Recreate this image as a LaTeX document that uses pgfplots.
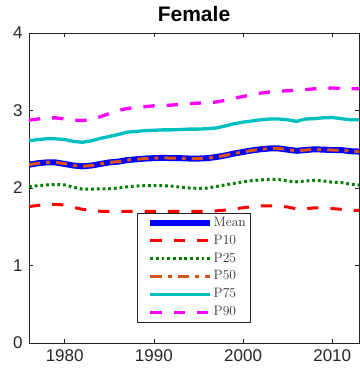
\documentclass[border=0pt]{standalone}
\usepackage{fontspec}
\usepackage{pgfplots}
\usepackage{pgfplotstable}
\pgfplotsset{compat=1.18}
\newfontfamily\arial{Liberation Sans}
\definecolor{mblue}{rgb}{0,0,1}
\definecolor{mred}{rgb}{1,0,0}
\definecolor{mgreen}{rgb}{0,0.5,0}
\definecolor{morange}{rgb}{0.85,0.325,0.098}
\definecolor{mcyan}{rgb}{0,0.75,0.75}
\definecolor{mmag}{rgb}{1,0,1}
\pgfplotstableread{
year mean p10 p25 p50 p75 p90
1976 2.300 1.760 2.020 2.300 2.610 2.875
1977 2.320 1.775 2.030 2.320 2.625 2.890
1978 2.330 1.790 2.040 2.330 2.635 2.905
1979 2.330 1.790 2.045 2.330 2.635 2.905
1980 2.310 1.780 2.040 2.315 2.625 2.890
1981 2.290 1.750 2.010 2.290 2.600 2.875
1982 2.280 1.725 1.985 2.280 2.590 2.870
1983 2.290 1.710 1.985 2.290 2.610 2.885
1984 2.310 1.700 1.990 2.310 2.640 2.920
1985 2.330 1.700 1.990 2.330 2.665 2.960
1986 2.340 1.700 2.000 2.340 2.690 3.000
1987 2.360 1.700 2.015 2.360 2.720 3.025
1988 2.370 1.700 2.025 2.370 2.730 3.040
1989 2.380 1.700 2.030 2.380 2.740 3.050
1990 2.385 1.700 2.030 2.385 2.745 3.060
1991 2.390 1.700 2.030 2.390 2.750 3.065
1992 2.385 1.700 2.025 2.385 2.750 3.070
1993 2.385 1.700 2.010 2.385 2.755 3.080
1994 2.380 1.700 2.000 2.380 2.760 3.090
1995 2.380 1.700 1.995 2.380 2.760 3.095
1996 2.385 1.700 2.000 2.385 2.765 3.100
1997 2.400 1.705 2.020 2.400 2.775 3.110
1998 2.420 1.715 2.040 2.420 2.800 3.130
1999 2.445 1.730 2.060 2.445 2.830 3.160
2000 2.465 1.745 2.080 2.465 2.850 3.180
2001 2.485 1.760 2.095 2.485 2.865 3.205
2002 2.500 1.770 2.105 2.500 2.880 3.225
2003 2.510 1.770 2.110 2.510 2.890 3.240
2004 2.510 1.765 2.110 2.510 2.890 3.250
2005 2.495 1.755 2.090 2.495 2.880 3.255
2006 2.480 1.730 2.080 2.480 2.860 3.260
2007 2.490 1.730 2.090 2.490 2.890 3.270
2008 2.500 1.745 2.100 2.500 2.895 3.280
2009 2.495 1.745 2.090 2.495 2.905 3.285
2010 2.490 1.735 2.075 2.490 2.910 3.290
2011 2.490 1.725 2.070 2.490 2.895 3.285
2012 2.475 1.710 2.050 2.475 2.880 3.280
2013 2.470 1.710 2.040 2.470 2.880 3.280
}\datatable
\begin{document}
\begin{tikzpicture}
\useasboundingbox (-29bp,-30bp) rectangle (331bp,343bp);
\begin{axis}[
  scale only axis, width=330bp, height=310bp,
  at={(0,0)}, anchor=south west,
  xmin=1976, xmax=2013, ymin=0, ymax=4,
  xtick={1980,1990,2000,2010}, ytick={0,1,2,3,4},
  tick align=inside, major tick length=4bp,
  axis line style={draw=black!85, line width=0.6bp},
  tick style={draw=black!85, line width=0.6bp},
  ticklabel style={font=\arial\fontsize{17bp}{20bp}\selectfont, text=black!85},
  /pgf/number format/assume math mode=true,
  /pgf/number format/1000 sep={},
  xticklabel style={yshift=-3bp},
  yticklabel style={xshift=-3bp},
  title={Female},
  title style={font=\arial\bfseries\fontsize{21bp}{24bp}\selectfont, at={(0.5,1)}, anchor=base, yshift=5.3bp},
  legend cell align=left,
  legend style={at={(0.327,0.419)}, anchor=north west, draw=black!85, line width=0.6bp,
    font=\fontsize{13.6bp}{15bp}\selectfont, text=black!80,
    inner xsep=4bp, inner ysep=3bp, row sep=4.3bp, column sep=0bp,
    nodes={inner sep=0.5bp, text height=9.5bp, text depth=3bp}},
  legend image code/.code={\path (0bp,0bp); \draw[#1] (6bp,0bp) -- (66bp,0bp);},
  clip=true,
]
\addplot[mblue, line width=6bp, line join=round] table[x=year,y=mean]{\datatable};
\addlegendentry{Mean}
\addplot[mred, line width=3bp, dash pattern=on 11.3bp off 12bp] table[x=year,y=p10]{\datatable};
\addlegendentry{P10}
\addplot[mgreen, line width=3bp, dash pattern=on 2.8bp off 2.9bp] table[x=year,y=p25]{\datatable};
\addlegendentry{P25}
\addplot[morange, line width=3bp, dash pattern=on 11.3bp off 6bp on 4bp off 6bp] table[x=year,y=p50]{\datatable};
\addlegendentry{P50}
\addplot[mcyan, line width=3.3bp, line join=round] table[x=year,y=p75]{\datatable};
\addlegendentry{P75}
\addplot[mmag, line width=3.3bp, dash pattern=on 11.3bp off 12bp] table[x=year,y=p90]{\datatable};
\addlegendentry{P90}
\end{axis}
\end{tikzpicture}
\end{document}
